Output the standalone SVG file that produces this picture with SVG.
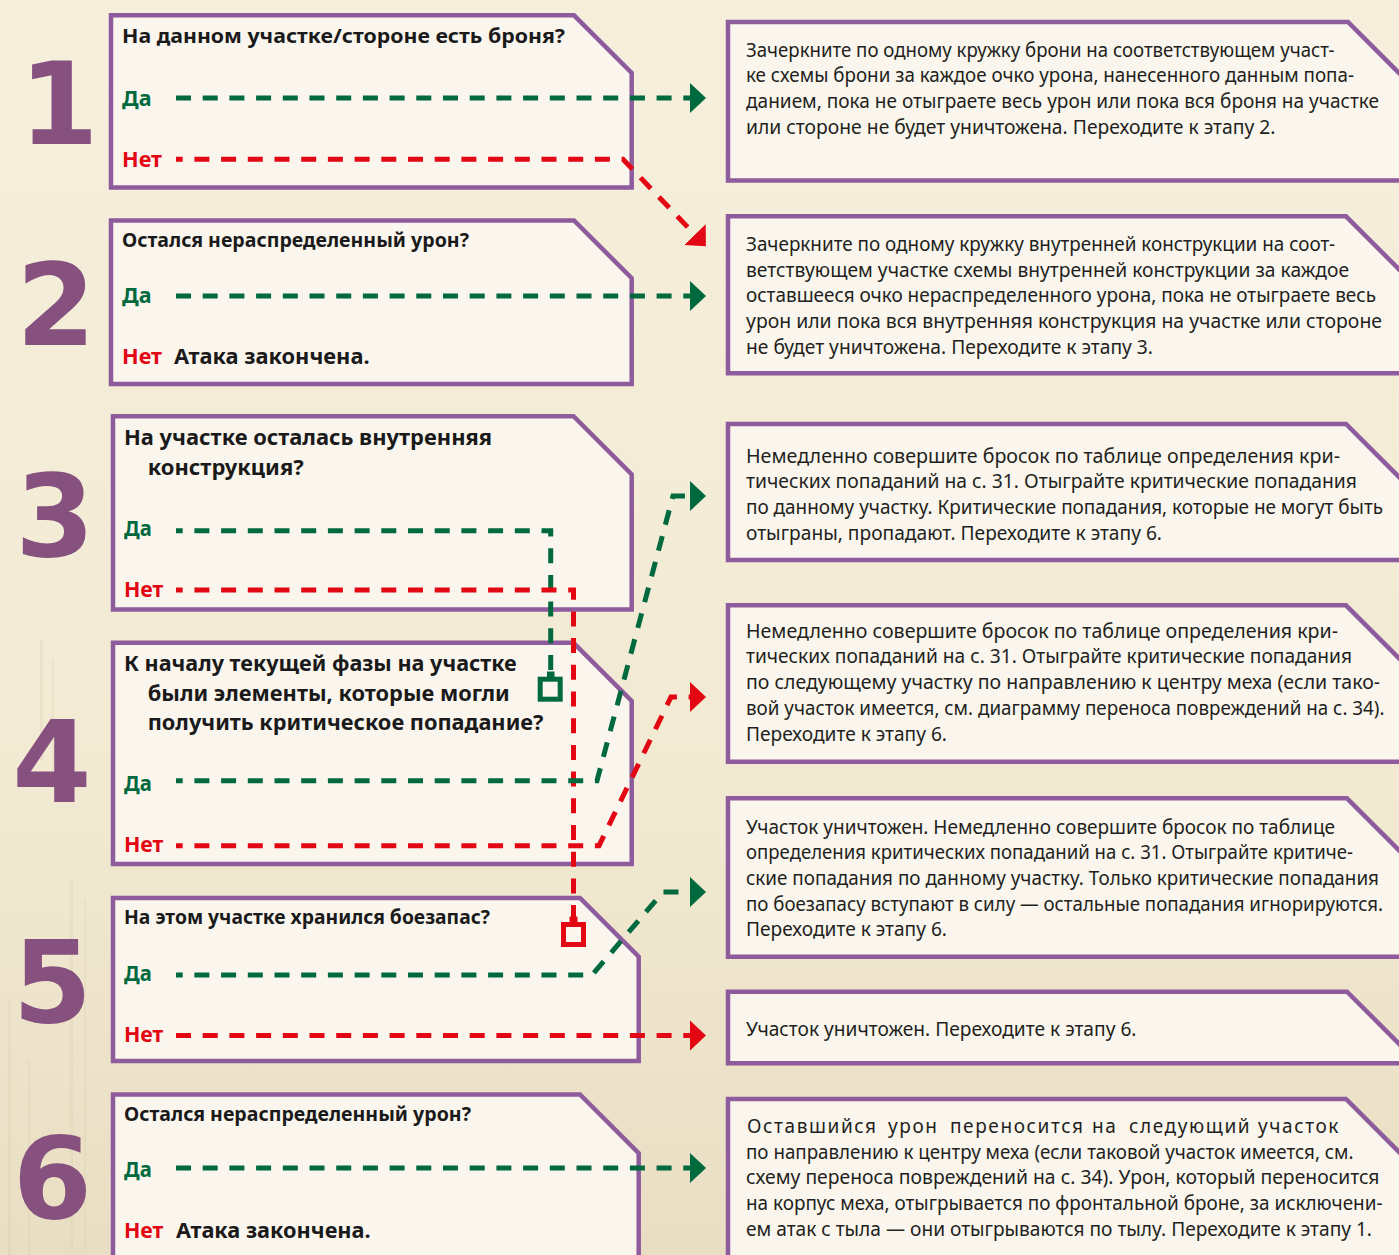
<svg xmlns="http://www.w3.org/2000/svg" width="1399" height="1255" viewBox="0 0 1399 1255">
<defs>
<linearGradient id="bgG" x1="0" y1="0" x2="0" y2="1">
<stop offset="0" stop-color="#f5efdc"/>
<stop offset="0.6" stop-color="#f2ead3"/>
<stop offset="1" stop-color="#e9dec3"/>
</linearGradient>
<marker id="arrG" viewBox="0 0 16 30" markerUnits="userSpaceOnUse" markerWidth="16" markerHeight="30" refX="6" refY="15" orient="auto">
<path d="M0,0 L16,15 L0,30 Z" fill="#00693e"/>
</marker>
<marker id="arrR" viewBox="0 0 16 30" markerUnits="userSpaceOnUse" markerWidth="16" markerHeight="30" refX="6" refY="15" orient="auto">
<path d="M0,0 L16,15 L0,30 Z" fill="#e30613"/>
</marker>
<style>
.box{fill:#faf6ee;stroke:#8e5b9d;stroke-width:4.5;stroke-linejoin:miter}
.num{font-family:"DejaVu Sans","Liberation Sans",sans-serif;font-weight:bold;font-size:114px;fill:#86507f;text-anchor:middle}
.q{font-family:"Noto Sans","Open Sans",sans-serif;font-weight:700;font-size:20px;fill:#1a1a1a}
.q21{font-size:21px}
.yes{font-family:"Noto Sans","Open Sans",sans-serif;font-weight:700;font-size:21px;fill:#00693e}
.no{font-family:"Noto Sans","Open Sans",sans-serif;font-weight:700;font-size:21px;fill:#e30613}
.t{font-family:"Noto Sans","Open Sans",sans-serif;font-size:19px;fill:#231f20}
.g{fill:none;stroke:#00693e;stroke-width:5;stroke-dasharray:15 11.7;stroke-dashoffset:8.3}
.r{fill:none;stroke:#e30613;stroke-width:5;stroke-dasharray:15 11.7;stroke-dashoffset:8.3}
.sqg{fill:none;stroke:#00693e;stroke-width:5}
.sqr{fill:none;stroke:#e30613;stroke-width:5}
.streak{fill:#cbbd9c;opacity:0.16}
</style>
</defs>

<rect x="0" y="0" width="1399" height="1255" fill="url(#bgG)"/>
<g id="background-texture">
<rect class="streak" x="40" y="640" width="3" height="120"/>
<rect class="streak" x="52" y="660" width="2" height="110"/>
<rect class="streak" x="70" y="880" width="3" height="370"/>
<rect class="streak" x="84" y="900" width="2" height="350"/>
<rect class="streak" x="8" y="1000" width="3" height="255"/>
<rect class="streak" x="28" y="1060" width="2" height="195"/>
</g>

<g id="step1">
<path class="box" d="M111,15.3 H574 L631.7,73 V187.5 H111 Z"/>
<text class="num" x="59" y="143.5">1</text>
<text class="q" x="122" y="43" textLength="443" lengthAdjust="spacingAndGlyphs">На данном участке/стороне есть броня?</text>
<text class="yes" x="122" y="105.5" textLength="29.5" lengthAdjust="spacingAndGlyphs">Да</text>
<text class="no" x="122" y="166.5" textLength="40" lengthAdjust="spacingAndGlyphs">Нет</text>
</g>

<g id="step2">
<path class="box" d="M111,220.5 H574 L631.7,278.2 V384 H111 Z"/>
<text class="num" x="56" y="345">2</text>
<text class="q" x="122" y="247.3" textLength="347" lengthAdjust="spacingAndGlyphs">Остался нераспределенный урон?</text>
<text class="yes" x="122" y="303.3" textLength="29.5" lengthAdjust="spacingAndGlyphs">Да</text>
<text class="no" x="122" y="364.3" textLength="40" lengthAdjust="spacingAndGlyphs">Нет</text>
<text class="q q21" x="174" y="364.3" textLength="195.6" lengthAdjust="spacingAndGlyphs">Атака закончена.</text>
</g>

<g id="step3">
<path class="box" d="M113,416.2 H573.5 L631.7,474.4 V609.5 H113 Z"/>
<text class="num" x="55" y="556">3</text>
<text class="q q21" x="124" y="445" textLength="368" lengthAdjust="spacingAndGlyphs">На участке осталась внутренняя</text>
<text class="q q21" x="147.7" y="475" textLength="156" lengthAdjust="spacingAndGlyphs">конструкция?</text>
<text class="yes" x="124" y="536" textLength="27.7" lengthAdjust="spacingAndGlyphs">Да</text>
<text class="no" x="124" y="596.5" textLength="39.3" lengthAdjust="spacingAndGlyphs">Нет</text>
</g>

<g id="step4">
<path class="box" d="M113,642.8 H573.5 L631.7,701 V864 H113 Z"/>
<text class="num" x="52" y="802.3">4</text>
<text class="q q21" x="124" y="670.5" textLength="392.7" lengthAdjust="spacingAndGlyphs">К началу текущей фазы на участке</text>
<text class="q q21" x="147.7" y="700.5" textLength="362" lengthAdjust="spacingAndGlyphs">были элементы, которые могли</text>
<text class="q q21" x="147.7" y="730" textLength="395.7" lengthAdjust="spacingAndGlyphs">получить критическое попадание?</text>
<text class="yes" x="124" y="790.5" textLength="27.7" lengthAdjust="spacingAndGlyphs">Да</text>
<text class="no" x="124" y="851.5" textLength="39.3" lengthAdjust="spacingAndGlyphs">Нет</text>
</g>

<g id="step5">
<path class="box" d="M113,898 H580 L638.7,956.7 V1061 H113 Z"/>
<text class="num" x="52.5" y="1021.7">5</text>
<text class="q" x="124" y="924.3" textLength="366" lengthAdjust="spacingAndGlyphs">На этом участке хранился боезапас?</text>
<text class="yes" x="124" y="980.5" textLength="27.7" lengthAdjust="spacingAndGlyphs">Да</text>
<text class="no" x="124" y="1042" textLength="39.3" lengthAdjust="spacingAndGlyphs">Нет</text>
</g>

<g id="step6">
<path class="box" d="M113,1094.5 H580 L638.7,1153.2 V1275 H113 Z"/>
<text class="num" x="52.5" y="1218">6</text>
<text class="q" x="124" y="1120.7" textLength="347" lengthAdjust="spacingAndGlyphs">Остался нераспределенный урон?</text>
<text class="yes" x="124" y="1176.7" textLength="27.7" lengthAdjust="spacingAndGlyphs">Да</text>
<text class="no" x="124" y="1238.3" textLength="39.3" lengthAdjust="spacingAndGlyphs">Нет</text>
<text class="q q21" x="176" y="1238.3" textLength="194.7" lengthAdjust="spacingAndGlyphs">Атака закончена.</text>
</g>

<g id="result-armor">
<path class="box" d="M728,22 H1348 L1420,94 V180.5 H728 Z"/>
<text class="t" x="746" y="56.5" textLength="588.5" lengthAdjust="spacingAndGlyphs">Зачеркните по одному кружку брони на соответствующем участ-</text>
<text class="t" x="746" y="82.2" textLength="608" lengthAdjust="spacingAndGlyphs">ке схемы брони за каждое очко урона, нанесенного данным попа-</text>
<text class="t" x="746" y="107.9" textLength="633" lengthAdjust="spacingAndGlyphs">данием, пока не отыграете весь урон или пока вся броня на участке</text>
<text class="t" x="746" y="133.6" textLength="529.5" lengthAdjust="spacingAndGlyphs">или стороне не будет уничтожена. Переходите к этапу 2.</text>
</g>

<g id="result-internal">
<path class="box" d="M728,216.3 H1346 L1420,290.3 V373.3 H728 Z"/>
<text class="t" x="746" y="250.8" textLength="589" lengthAdjust="spacingAndGlyphs">Зачеркните по одному кружку внутренней конструкции на соот-</text>
<text class="t" x="746" y="276.5" textLength="603" lengthAdjust="spacingAndGlyphs">ветствующем участке схемы внутренней конструкции за каждое</text>
<text class="t" x="746" y="302.2" textLength="630" lengthAdjust="spacingAndGlyphs">оставшееся очко нераспределенного урона, пока не отыграете весь</text>
<text class="t" x="746" y="327.9" textLength="636" lengthAdjust="spacingAndGlyphs">урон или пока вся внутренняя конструкция на участке или стороне</text>
<text class="t" x="746" y="353.6" textLength="407" lengthAdjust="spacingAndGlyphs">не будет уничтожена. Переходите к этапу 3.</text>
</g>

<g id="result-crit-this">
<path class="box" d="M728,424 H1346 L1420,498 V560 H728 Z"/>
<text class="t" x="746" y="462.7" textLength="594" lengthAdjust="spacingAndGlyphs">Немедленно совершите бросок по таблице определения кри-</text>
<text class="t" x="746" y="488.4" textLength="611" lengthAdjust="spacingAndGlyphs">тических попаданий на с. 31. Отыграйте критические попадания</text>
<text class="t" x="746" y="514.1" textLength="637" lengthAdjust="spacingAndGlyphs">по данному участку. Критические попадания, которые не могут быть</text>
<text class="t" x="746" y="539.8" textLength="416" lengthAdjust="spacingAndGlyphs">отыграны, пропадают. Переходите к этапу 6.</text>
</g>

<g id="result-crit-next">
<path class="box" d="M728,605.3 H1346 L1420,679.3 V761.7 H728 Z"/>
<text class="t" x="746" y="637.7" textLength="592" lengthAdjust="spacingAndGlyphs">Немедленно совершите бросок по таблице определения кри-</text>
<text class="t" x="746" y="663.4" textLength="606" lengthAdjust="spacingAndGlyphs">тических попаданий на с. 31. Отыграйте критические попадания</text>
<text class="t" x="746" y="689.1" textLength="634" lengthAdjust="spacingAndGlyphs">по следующему участку по направлению к центру меха (если тако-</text>
<text class="t" x="746" y="714.8" textLength="638.5" lengthAdjust="spacingAndGlyphs">вой участок имеется, см. диаграмму переноса повреждений на с. 34).</text>
<text class="t" x="746" y="740.5" textLength="201" lengthAdjust="spacingAndGlyphs">Переходите к этапу 6.</text>
</g>

<g id="result-ammo">
<path class="box" d="M728,798.3 H1347 L1420,871.3 V956.7 H728 Z"/>
<text class="t" x="746" y="833.5" textLength="589" lengthAdjust="spacingAndGlyphs">Участок уничтожен. Немедленно совершите бросок по таблице</text>
<text class="t" x="746" y="859.2" textLength="607" lengthAdjust="spacingAndGlyphs">определения критических попаданий на с. 31. Отыграйте критиче-</text>
<text class="t" x="746" y="884.9" textLength="633" lengthAdjust="spacingAndGlyphs">ские попадания по данному участку. Только критические попадания</text>
<text class="t" x="746" y="910.6" textLength="637" lengthAdjust="spacingAndGlyphs">по боезапасу вступают в силу — остальные попадания игнорируются.</text>
<text class="t" x="746" y="936.3" textLength="201" lengthAdjust="spacingAndGlyphs">Переходите к этапу 6.</text>
</g>

<g id="result-destroyed">
<path class="box" d="M728,991.7 H1347 L1410,1054.7 V1063.3 H728 Z"/>
<text class="t" x="746" y="1036" textLength="390.5" lengthAdjust="spacingAndGlyphs">Участок уничтожен. Переходите к этапу 6.</text>
</g>

<g id="result-transfer">
<path class="box" d="M728,1099 H1346 L1420,1173 V1275 H728 Z"/>
<text class="t" y="1133" letter-spacing="1.6"><tspan x="747">Оставшийся</tspan> <tspan x="888">урон</tspan> <tspan x="950">переносится</tspan> <tspan x="1092">на</tspan> <tspan x="1129">следующий</tspan> <tspan x="1258">участок</tspan></text>
<text class="t" x="746" y="1158.7" textLength="607.5" lengthAdjust="spacingAndGlyphs">по направлению к центру меха (если таковой участок имеется, см.</text>
<text class="t" x="746" y="1184.4" textLength="633.5" lengthAdjust="spacingAndGlyphs">схему переноса повреждений на с. 34). Урон, который переносится</text>
<text class="t" x="746" y="1210.1" textLength="636.5" lengthAdjust="spacingAndGlyphs">на корпус меха, отыгрывается по фронтальной броне, за исключени-</text>
<text class="t" x="746" y="1235.8" textLength="626" lengthAdjust="spacingAndGlyphs">ем атак с тыла — они отыгрываются по тылу. Переходите к этапу 1.</text>
</g>

<g id="connectors">
<path class="g" style="stroke-dashoffset:0" d="M176,98 H696" marker-end="url(#arrG)"/>
<path class="r" d="M176,159.3 H623 L699,239" marker-end="url(#arrR)"/>
<path class="g" style="stroke-dashoffset:0" d="M176,296 H696" marker-end="url(#arrG)"/>
<path class="g" d="M176,530.7 H550.7 V677"/>
<rect x="547" y="671.5" width="7.5" height="6" fill="#00693e"/>
<rect class="sqg" x="540.2" y="679.2" width="20" height="20"/>
<path class="r" d="M176,590 H573.5 V918"/>
<rect x="569.5" y="916.5" width="8" height="6" fill="#e30613"/>
<rect class="sqr" x="563.5" y="924.5" width="20" height="20"/>
<path class="g" d="M176,780.7 H597 L673,496 H696" marker-end="url(#arrG)"/>
<path class="r" d="M176,845.7 H599 L671,697 H696" marker-end="url(#arrR)"/>
<path class="g" d="M176,975 H592 L663,892 H696" marker-end="url(#arrG)"/>
<path class="r" style="stroke-dashoffset:0" d="M176,1035.5 H696" marker-end="url(#arrR)"/>
<path class="g" style="stroke-dashoffset:0" d="M176,1168 H696" marker-end="url(#arrG)"/>
</g>
</svg>
